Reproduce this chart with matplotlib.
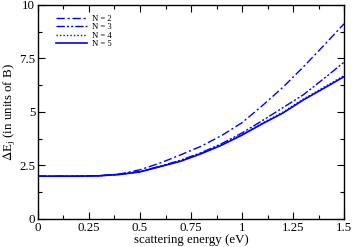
import matplotlib
matplotlib.use("Agg")
import matplotlib.pyplot as plt
from matplotlib.ticker import MultipleLocator

# scattering energy (eV)
energy = [0.0, 0.1, 0.2, 0.3, 0.4, 0.5, 0.6, 0.7, 0.8, 0.9, 1.0, 1.1, 1.2, 1.3, 1.4, 1.5]

# Delta E_j (units of B)
dE_n2 = [2.0, 2.0, 2.0, 2.02, 2.1, 2.3, 2.62, 3.0, 3.4, 3.9, 4.5, 5.3, 6.15, 7.1, 8.1, 9.12]
dE_n3 = [2.0, 2.0, 2.0, 2.02, 2.09, 2.22, 2.47, 2.75, 3.1, 3.52, 4.02, 4.6, 5.2, 5.8, 6.55, 7.33]
dE_n4 = [2.0, 2.0, 2.0, 2.02, 2.08, 2.21, 2.46, 2.72, 3.07, 3.47, 3.95, 4.48, 4.99, 5.6, 6.15, 6.7]
dE_n5 = [2.0, 2.0, 2.0, 2.02, 2.08, 2.2, 2.45, 2.7, 3.05, 3.45, 3.92, 4.45, 4.95, 5.56, 6.1, 6.65]

labels = ["N = 2", "N = 3", "N = 4", "N = 5"]

plt.rcParams['font.family'] = ['Liberation Serif', 'DejaVu Serif']
plt.rcParams['mathtext.fontset'] = 'stix'

fig = plt.figure(figsize=(3.53, 2.47), dpi=100)
ax = fig.add_axes([0.1076, 0.1134, 0.867, 0.8664])

blue = '#0000ff'
ax.plot(energy, dE_n2, color=blue, lw=1.0, linestyle=(0, (6, 2, 1.5, 2)), label=labels[0])
ax.plot(energy, dE_n3, color=blue, lw=1.0, linestyle=(0, (6, 1.5, 1.5, 1.5, 1.5, 1.5)), label=labels[1])
ax.plot(energy, dE_n4, color=blue, lw=1.0, linestyle=(0, (1, 1.5)), label=labels[2])
ax.plot(energy, dE_n5, color=blue, lw=1.2, linestyle='-', label=labels[3])

ax.set_xlim(0, 1.5)
ax.set_ylim(0, 10)
ax.xaxis.set_minor_locator(MultipleLocator(0.125))
ax.yaxis.set_minor_locator(MultipleLocator(1.25))
ax.set_xticks([0, 0.25, 0.5, 0.75, 1.0, 1.25, 1.5])
ax.set_xticklabels(['0', '0.25', '0.5', '0.75', '1', '1.25', '1.5'])
ax.set_yticks([0, 2.5, 5, 7.5, 10])
ax.set_yticklabels(['0', '2.5', '5', '7.5', '10'])

ax.tick_params(which='both', direction='in', top=True, right=True, labelsize=9.3, pad=2)
ax.tick_params(which='major', length=5, width=0.8)
ax.tick_params(which='minor', length=3, width=0.8)
for s in ax.spines.values():
    s.set_linewidth(1.0)

ax.set_xlabel('scattering energy (eV)', fontsize=9.3, labelpad=0)
ax.set_ylabel(r'$\Delta$E$_{\mathrm{j}}$ (in units of B)', fontsize=9.3, labelpad=1)

ax.legend(loc='upper left', bbox_to_anchor=(0.035, 0.985), frameon=False, fontsize=6.2,
          handlelength=3.6, handletextpad=0.6, labelspacing=0.02, borderpad=0.3)

fig.savefig('out.png', dpi=100)
